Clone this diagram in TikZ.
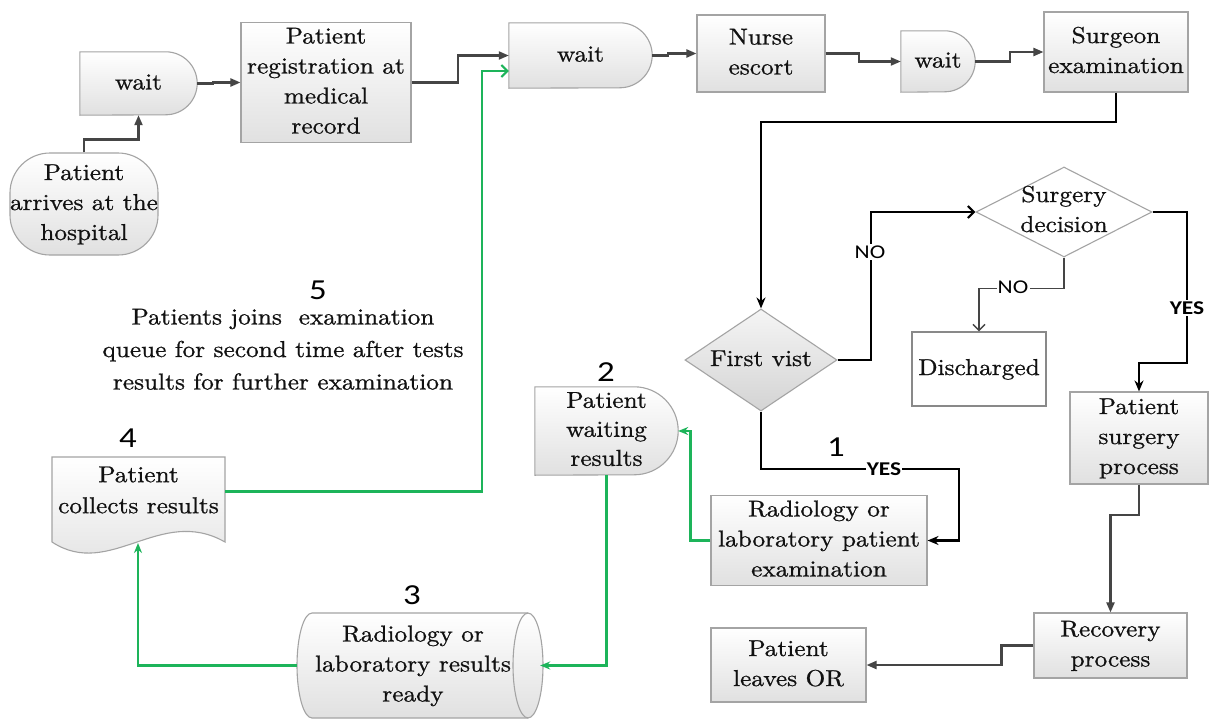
\documentclass[tikz,border=0pt]{standalone}
\usepackage{fontspec}
\usepackage{graphicx}
\newfontfamily\boxfont{lmroman10-regular.otf}[FakeBold=0.8]
\newfontfamily\lblfont{Carlito}
\usetikzlibrary{arrows.meta,calc,shapes.geometric,backgrounds}

\pgfdeclarelayer{canvas}
\pgfsetlayers{canvas,background,main}

\definecolor{edge}{HTML}{A4A4A4}
\definecolor{flow}{HTML}{454545}
\definecolor{loop}{HTML}{1DB45A}
\definecolor{ink}{HTML}{111111}

% text set slightly wide, several centred lines
\newcommand\wide[1]{\scalebox{1.1}[1]{\begin{tabular}{@{}c@{}}#1\end{tabular}}}
\newcommand\widelab[1]{\scalebox{1.2}[1]{#1}}

\tikzset{
  txt/.style={font=\boxfont\fontsize{23}{30}\selectfont, text=ink, align=center, inner sep=0pt},
  frame/.style={draw=edge, line width=1.1pt, top color=white, bottom color=black!12},
  procbox/.style={txt, frame, rectangle},
  gline/.style={draw=flow, line width=2.1pt, -{Triangle[length=10pt,width=8pt]}},
  bline/.style={draw=black, line width=2.1pt, -{Stealth[length=11pt,width=9pt]}},
  openhead/.style={-{Straight Barb[length=6pt,width=12pt]}},
  grn/.style={draw=loop, line width=2.1pt, -{Stealth[length=10pt,width=8pt]}},
  lab/.style={font=\lblfont\fontsize{19.5}{20}\selectfont, fill=white, inner sep=1.2pt, text=black},
  yeslab/.style={lab, font=\lblfont\bfseries\fontsize{19.5}{20}\selectfont},
  num/.style={font=\lblfont\fontsize{29}{30}\selectfont, text=black, inner sep=0pt},
}

% delay (D-shaped) outline drawn round a node: name, radius of the rounded end
\newcommand\delayoutline[2]{%
  \path[frame] (#1.north west) -- ($(#1.north east)-(#2,0)$)
    arc[start angle=90,end angle=-90,radius=#2pt] -- (#1.south west) -- cycle;}

\begin{document}
\begin{tikzpicture}[x=1pt,y=-1pt]
\useasboundingbox (0,0) rectangle (1211,720);
\begin{pgfonlayer}{canvas}
  \fill[white] (0,0) rectangle (1211,720);
\end{pgfonlayer}

% ---------- nodes ----------
\node[txt, frame, rounded corners=40pt, minimum width=148pt, minimum height=102pt]
  (arrive) at (84,204) {\wide{Patient\\arrives at the\\hospital}};
\node[txt, minimum width=117pt, minimum height=63pt] (wait1) at (138.5,83.5) {\wide{wait}};
\node[procbox, minimum width=170pt, minimum height=117pt] (reg) at (326,82.5)
  {\wide{Patient\\registration at\\medical\\record}};
\node[txt, minimum width=143pt, minimum height=65pt] (wait2) at (580.5,55.5) {\wide{wait}};
\node[procbox, minimum width=128pt, minimum height=77pt] (nurse) at (761,53.5) {\wide{Nurse\\escort}};
\node[txt, minimum width=74pt, minimum height=61pt] (wait3) at (938,61.5) {\wide{wait}};
\node[procbox, minimum width=144pt, minimum height=80pt] (surgeon) at (1116,52)
  {\wide{Surgeon\\examination}};

\node[txt, diamond, aspect=1.5, draw=edge, line width=1.1pt, top color=black!4,
  bottom color=black!17, minimum width=152pt, minimum height=102pt] (first) at (761,360)
  {\wide{First vist}};

\node[diamond, draw=edge, line width=1.1pt, fill=white, inner sep=0pt,
  minimum width=176pt, minimum height=90pt] (sdec) at (1064,212) {};
\node[txt] (sdectext) at (1064,211) {\wide{Surgery\\decision}};

\node[txt, draw=edge!130, line width=1.1pt, fill=white, minimum width=134pt, minimum height=74pt]
  (disch) at (979,369) {\wide{Discharged}};
\node[procbox, minimum width=138pt, minimum height=92pt] (surg) at (1139,438)
  {\wide{Patient\\surgery\\process}};
\node[procbox, minimum width=153pt, minimum height=65pt] (recov) at (1110.5,645.5)
  {\wide{Recovery\\process}};
\node[procbox, minimum width=155pt, minimum height=74pt] (leaves) at (788.5,665)
  {\wide{Patient\\leaves OR}};
\node[procbox, minimum width=216pt, minimum height=85pt] (radex) at (819,540.5)
  {\wide{Radiology or\\laboratory patient\\examination}};

\node[txt, font=\boxfont\fontsize{23}{29}\selectfont, minimum width=143pt, minimum height=88pt]
  (waitres) at (606.5,431) {\wide{Patient\\waiting\\results}};
\node[txt, minimum width=232pt, minimum height=105pt] (cyl) at (413,665.5)
  {\wide{Radiology or\\laboratory results\\ready}};
\node[txt, font=\boxfont\fontsize{23}{31}\selectfont, minimum width=173pt, minimum height=69pt]
  (doc) at (138.5,491.5) {\wide{Patient\\collects results}};
\coordinate (docin) at (138,543);

\node[txt, font=\boxfont\fontsize{23}{32.5}\selectfont] (note) at (283,350.5)
  {\wide{Patients joins\ \ examination\\queue for second time after tests\\results for further examination}};

% step numbers
\node[num] (n1) at (836,447) {\widelab{1}};
\node[num] (n2) at (606,372) {\widelab{2}};
\node[num] (n3) at (412,595) {\widelab{3}};
\node[num] (n4) at (128,438) {\widelab{4}};
\node[num] (n5) at (318,290) {\widelab{5}};

% ---------- outlines of the special shapes ----------
\begin{scope}[on background layer]
  \delayoutline{wait1}{31.5}
  \delayoutline{wait2}{32.5}
  \delayoutline{wait3}{30.5}
  \delayoutline{waitres}{44}
  % stored data (lying cylinder)
  \path[frame] (312,613) -- (528,613)
    arc[start angle=90,end angle=-90,x radius=15pt,y radius=52.5pt] -- (312,718)
    arc[start angle=270,end angle=90,x radius=15pt,y radius=52.5pt] -- cycle;
  \draw[draw=edge, line width=1.1pt] (528,613)
    arc[start angle=90,end angle=270,x radius=15pt,y radius=52.5pt];
  % document with wavy foot
  \path[frame] (52,457) -- (225,457) -- (225,542)
    .. controls (160,505) and (110,580) .. (52,542) -- cycle;
\end{scope}

% ---------- main flow ----------
\draw[gline] (arrive.north) -- ++(0,-13) -| (wait1.south);
\draw[gline] (wait1.east) -- ++(16,0) |- (reg.west);
\draw[gline] (reg.east) -- ++(46,0) |- (wait2.west);
\draw[gline] (wait2.east) -- ++(16,0) |- (nurse.west);
\draw[gline] (nurse.east) -- ++(33,0) |- (wait3.west);
\draw[gline] (wait3.east) -- ++(35,0) |- (surgeon.west);
\draw[bline] (surgeon.south) -- ++(0,29) -| (first.north);

% decisions
\draw[bline, openhead] (first.east) -- ++(33,0) |- (sdec.west);
\node[lab] (noA) at (870,252) {\widelab{NO}};
\draw[draw=flow, line width=1.5pt, openhead] (sdec.south) -- ++(0,31) -| (disch.north);
\node[lab] (noB) at (1013,287) {\widelab{NO}};
\coordinate (yesbend) at (1187,363);
\draw[bline] (sdec.east) -| (yesbend) -| (surg.north);
\node[yeslab] (yesA) at (1187,308) {\widelab{YES}};
\coordinate (labbend) at (959,469);
\draw[bline] (first.south) |- (labbend) |- (radex.east);
\node[yeslab] (yesB) at (884,469) {\widelab{YES}};

% surgery path
\draw[gline] (surg.south) -- ++(0,30) -| (recov.north);
\draw[gline] (recov.west) -- ++(-32,0) |- (leaves.east);

% test results loop
\draw[grn] (radex.west) -- ++(-20,0) |- (waitres.east);
\draw[grn] (waitres.south) |- ($(cyl.east)+(11,0)$);
\draw[grn] (cyl.west) -| (docin);
\draw[grn, -{Straight Barb[length=6pt,width=12pt]}] (doc.east) -- ++(257,0) |- ($(wait2.west)+(0,15.5)$);

\end{tikzpicture}
\end{document}
